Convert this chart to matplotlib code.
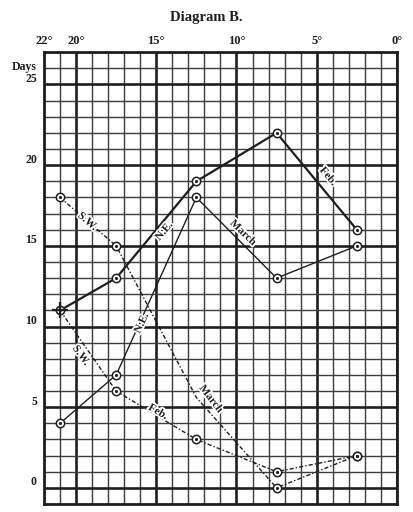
import matplotlib.pyplot as plt
import matplotlib.patheffects as pe
from matplotlib.transforms import blended_transform_factory

# degrees (read right to left) and number of days
lat = [21, 17.5, 12.5, 7.5, 2.5]
ne_feb = [11, 13, 19, 22, 16]
ne_march = [4, 7, 18, 13, 15]
sw_feb = [11, 6, 3, 1, 2]
sw_march = [18, 15, 5.6, 0, 2]

x_ticks = [22, 20, 15, 10, 5, 0]
x_tick_labels = ['22°', '20°', '15°', '10°', '5°', '0°']
y_ticks = [25, 20, 15, 10, 5, 0]

ink = '#1e1e1e'
plt.rcParams['font.family'] = ['Liberation Serif', 'DejaVu Serif']

fig = plt.figure(figsize=(4.13, 5.12), dpi=100)
ax = fig.add_axes([0.1065, 0.0156, 0.8545, 0.8824])
ax.set_xlim(22, 0)
ax.set_ylim(-1, 27)

# ruled paper: one line per degree / day, heavier every five
for v in range(0, 23):
    heavy = v % 5 == 0
    ax.axvline(v, color=ink if heavy else '#3c3c3c', lw=1.9 if heavy else 1.0, zorder=1)
for v in range(-1, 28):
    heavy = v % 5 == 0
    ax.axhline(v, color=ink if heavy else '#3c3c3c', lw=1.9 if heavy else 1.0, zorder=1)
for s in ax.spines.values():
    s.set_linewidth(2.0)
    s.set_color(ink)
ax.set_xticks([])
ax.set_yticks([])

dash = (0, (3, 1.5, 1, 1.5))
ax.plot(lat, ne_feb, color=ink, lw=1.6, zorder=3)
ax.plot(lat, ne_march, color=ink, lw=1.0, zorder=3)
ax.plot(lat, sw_feb, color=ink, lw=1.0, ls=dash, zorder=3)
ax.plot(lat, sw_march, color=ink, lw=1.0, ls=dash, zorder=3)

# ringed points
def rings(xs, ys, skip=()):
    pts = [(x, y) for i, (x, y) in enumerate(zip(xs, ys)) if i not in skip]
    px = [p[0] for p in pts]
    py = [p[1] for p in pts]
    ax.plot(px, py, 'o', ms=6, mfc='white', mec=ink, mew=1.1, zorder=4)
    ax.plot(px, py, '.', ms=2.5, color=ink, zorder=5)

rings(lat, ne_feb)
rings(lat, ne_march)
rings(lat, sw_feb, skip=(0,))
rings(lat, sw_march, skip=(2,))
# shared starting point of the two February curves
ax.plot(lat[0], ne_feb[0], '+', ms=12, mew=1.6, color=ink, zorder=6)

halo = [pe.withStroke(linewidth=2.5, foreground='white')]
def tag(x, y, s, rot):
    ax.text(x, y, s, rotation=rot, fontsize=8, fontweight='bold', color=ink,
            ha='center', va='center', rotation_mode='anchor',
            path_effects=halo, zorder=6)

tag(19.3, 16.5, 'S.W.', -41)
tag(14.5, 15.9, 'N.E.', 50)
tag(4.3, 19.3, 'Feb.', -50)
tag(9.6, 15.8, 'March', -44)
tag(15.9, 10.2, 'N.E.', 65)
tag(19.7, 8.2, 'S.W.', -54)
tag(14.9, 4.7, 'Feb.', -30)
tag(11.6, 5.5, 'March', -52)

# degree labels along the top, day labels on the left
top = blended_transform_factory(ax.transData, ax.transAxes)
for v, lab in zip(x_ticks, x_tick_labels):
    ax.text(v, 1.012, lab, transform=top, ha='center', va='bottom',
            fontsize=9, fontweight='bold', color=ink)
left = blended_transform_factory(ax.transAxes, ax.transData)
for v in y_ticks:
    ax.text(-0.02, v + 0.35, str(v), transform=left, ha='right', va='center',
            fontsize=8.5, fontweight='bold', color=ink)
ax.text(-0.02, 26.1, 'Days', transform=left, ha='right', va='center',
        fontsize=8.5, fontweight='bold', color=ink)

fig.text(0.5, 0.966, 'Diagram B.', ha='center', va='center',
         fontsize=10.5, fontweight='bold', color=ink)

fig.savefig('out.png', dpi=100)
